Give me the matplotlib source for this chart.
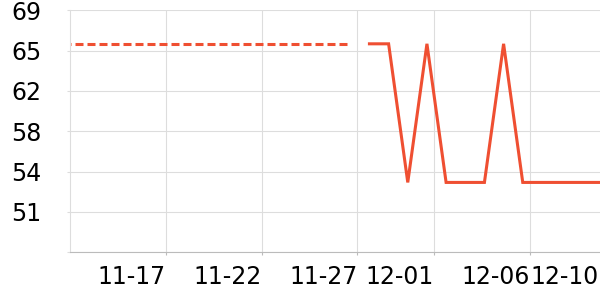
import matplotlib
matplotlib.use("Agg")
import matplotlib.pyplot as plt
import matplotlib.transforms as mtransforms
import numpy as np
import pandas as pd

# dashed series (earlier period)
dash_dates = pd.date_range("2023-11-11 15:00", "2023-11-26 15:00", freq="D")
dash_vals = [65.7] * len(dash_dates)

# solid series
solid_dates = pd.date_range("2023-11-27 15:00", "2023-12-09 15:00", freq="D")
solid_vals = [65.7, 65.7, 53.5, 65.7, 53.5, 53.5, 53.5, 65.7, 53.5, 53.5, 53.5, 53.5, 53.5]

xtick_dates = pd.to_datetime(["2023-11-17", "2023-11-22", "2023-11-27",
                              "2023-12-01", "2023-12-06", "2023-12-10"])
xtick_labels = ["11-17", "11-22", "11-27", "12-01", "12-06", "12-10"]

ytick_vals = [47.35, 50.9, 54.45, 58.0, 61.55, 65.1, 68.65]
ytick_labels = ["", "51", "54", "58", "62", "65", "69"]

color = "#ef4f32"
plt.rcParams["lines.scale_dashes"] = False
plt.rcParams["font.family"] = "DejaVu Sans"

fig = plt.figure(figsize=(6, 3), dpi=100)
ax = fig.add_axes([70 / 600, (300 - 252.3) / 300, (606.6 - 70) / 600, 242 / 300])

ax.plot(dash_dates, dash_vals, color=color, lw=2.2, dashes=(5.76, 2.88))
ax.plot(solid_dates, solid_vals, color=color, lw=2.2, solid_joinstyle="miter")

ax.set_xlim(pd.Timestamp("2023-11-12"), pd.Timestamp("2023-12-10"))
ax.set_ylim(ytick_vals[0], ytick_vals[-1])

ax.set_xticks(xtick_dates)
ax.set_xticklabels(xtick_labels, ha="right")
ax.set_yticks(ytick_vals)
ax.set_yticklabels(ytick_labels)

ax.grid(True, color="#dddddd", lw=0.8)
ax.set_axisbelow(True)
for s in ["top", "right"]:
    ax.spines[s].set_visible(False)
ax.spines["left"].set_color("#dddddd")
ax.spines["bottom"].set_color("#bbbbbb")
ax.spines["left"].set_linewidth(0.8)
ax.spines["bottom"].set_linewidth(0.8)

ax.tick_params(axis="y", length=2, width=0.8, color="#dddddd", pad=18.5, labelsize=17)
ax.tick_params(axis="x", length=2.5, width=0.8, color="#bbbbbb", pad=7, labelsize=17)

# keep the last label inside the picture
last = ax.get_xticklabels()[-1]
last.set_transform(last.get_transform() + mtransforms.ScaledTranslation(-7.5 / 100, 0, fig.dpi_scale_trans))

fig.savefig("out.png", dpi=100)
